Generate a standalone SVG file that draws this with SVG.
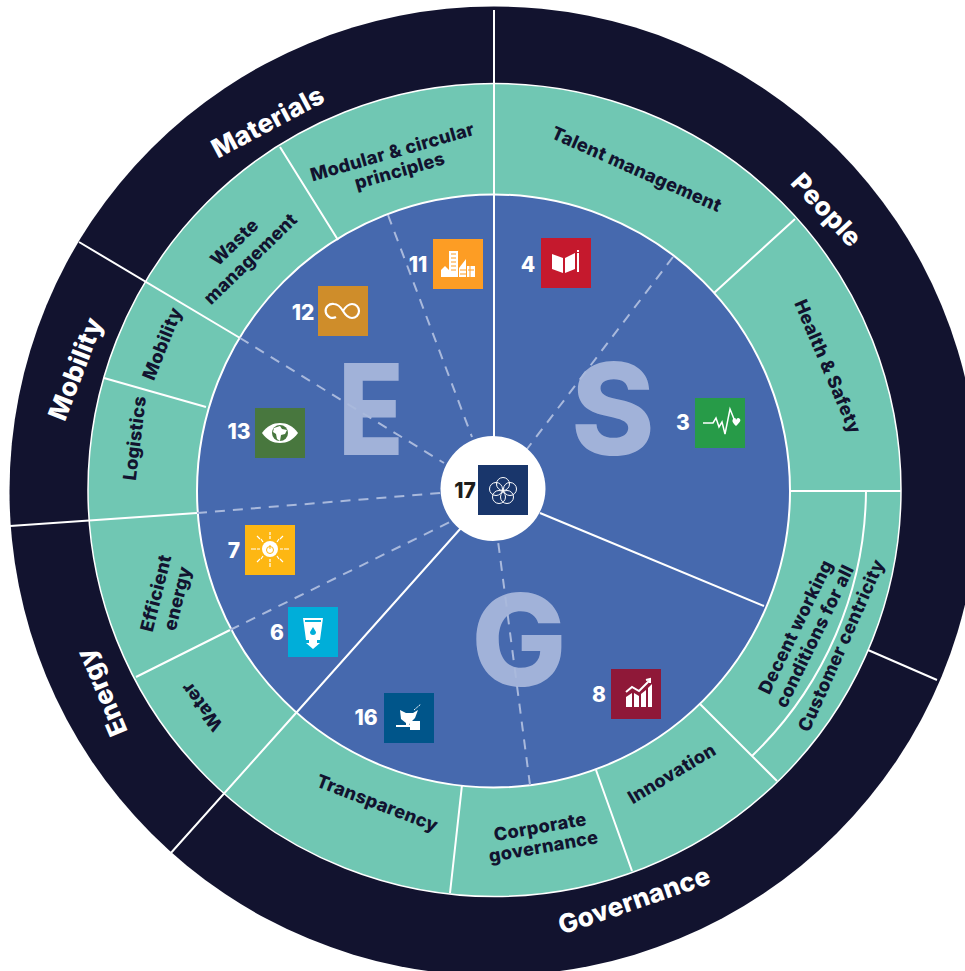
<svg xmlns="http://www.w3.org/2000/svg" width="965" height="971" viewBox="0 0 965 971">
<style>
text{font-family:"Inter","Liberation Sans",sans-serif;font-weight:800;text-anchor:middle}
.o{fill:#fff;font-size:26px;letter-spacing:.2px}
.t{fill:#12132f;font-size:18.2px;letter-spacing:.3px}
.n{fill:#fff;font-size:21px}
.b{fill:#a1b2d9;font-size:127px}
.w{stroke:#fff;stroke-width:2;fill:none}
.d{stroke:#a9b9dc;stroke-width:2;stroke-dasharray:10 8;fill:none}
.i{fill:#fff}
.l{stroke:#fff;fill:none}
</style>
<rect width="965" height="971" fill="#fff"/>
<g id="rings">
<circle cx="494" cy="491" r="484.500" fill="#12132f"/>
<circle cx="494.500" cy="490" r="406.500" fill="#70c7b3" stroke="#fff" stroke-width="1.500"/>
<circle cx="493.500" cy="491" r="296.500" fill="#4669ae" stroke="#fff" stroke-width="2"/>
</g>
<g id="letters">
<text class="b" transform="translate(371 455) scale(.85 1)">E</text>
<text class="b" x="613" y="455">S</text>
<text class="b" x="519" y="686">G</text>
</g>
<g id="connectors">
<path class="w" d="M494 10V195M79 242L240 338M10 526L197 513M170 854L296 713M868 650L937 680M280 147L338 240M104 378L206 407M136 677L230 630M462 785L450 893M596 770L632 871M700 704L777 781M789 491H901M795 219L714 293M866 491A372 372 0 0 1 752 756"/>
<path class="w" d="M494 195V440M540 513L764 606M461 528L296 713"/>
<path class="d" d="M388 215L472 437M673 257L527 449M240 338L444 463M197 513L440 493M230 630L450 522M530 785L498 541"/>
</g>
<g id="outer-labels">
<text class="o" transform="translate(272 130) rotate(-28)">Materials</text>
<text class="o" transform="translate(820 216) rotate(47)">People</text>
<text class="o" transform="translate(84 372) rotate(-69)">Mobility</text>
<text class="o" transform="translate(110 689) rotate(-113)">Energy</text>
<text class="o" transform="translate(637 909) rotate(-19)">Governance</text>
</g>
<g id="segment-labels">
<text class="t" transform="translate(634 175) rotate(24)">Talent management</text>
<text class="t" transform="translate(822 369) rotate(67)">Health &amp; Safety</text>
<text class="t" transform="translate(812 635) rotate(-64)"><tspan x="0" y="-12">Decent working</tspan><tspan x="0" y="9">conditions for all</tspan></text>
<text class="t" transform="translate(847 648) rotate(-66)">Customer centricity</text>
<text class="t" transform="translate(675 779) rotate(-31)">Innovation</text>
<text class="t" transform="translate(542 838) rotate(-10)"><tspan x="0" y="-5">Corporate</tspan><tspan x="0" y="15">governance</tspan></text>
<text class="t" transform="translate(375 809) rotate(21)">Transparency</text>
<text class="t" transform="translate(207 703) rotate(-127)">Water</text>
<text class="t" transform="translate(164 595) rotate(-76)"><tspan x="0" y="-2">Efficient</tspan><tspan x="0" y="20">energy</tspan></text>
<text class="t" transform="translate(141 439) rotate(-83)">Logistics</text>
<text class="t" transform="translate(168 346) rotate(-68)">Mobility</text>
<text class="t" transform="translate(243 251) rotate(-44)"><tspan x="0" y="-6">Waste</tspan><tspan x="0" y="17">management</tspan></text>
<text class="t" transform="translate(394 158) rotate(-16)"><tspan x="0" y="0">Modular &amp; circular</tspan><tspan x="2" y="20">principles</tspan></text>
</g>
<circle id="hub" cx="493" cy="488.500" r="52.500" fill="#fff"/>
<g id="sdg11"><text class="n" x="418" y="272">11</text><rect x="433" y="239" width="50" height="50" fill="#fd9d24"/><path class="i" d="M449 251h9v26h-9zM441 277v-7l4-4 4 4v7zM459 277v-9l7-9v18zM467 266h8v11h-8z"/><path d="M451 254h5M451 258h5M451 262h5M451 266h5M451 270h5M460 270h6M460 274h6M468 270h6M470 266v11" stroke="#fd9d24" stroke-width="1"/></g>
<g id="sdg4"><text class="n" x="528" y="272">4</text><rect x="541" y="238" width="50" height="50" fill="#c5192d"/><path class="i" d="M552 254l11 4v15l-11-4zM565 258l10-5v16l-10 4zM577 253h2v19h-2zM577 250h2v2h-2z"/></g>
<g id="sdg12"><text class="n" x="303" y="320">12</text><rect x="318" y="286" width="50" height="50" fill="#cf8d2a"/><path class="l" stroke-width="2.200" d="M343 311c-3-5-5-7-9-7a7 7 0 1 0 2 13M343 311c3-5 6-7 9-7a7 7 0 0 1 0 14c-3 0-6-2-9-7"/></g>
<g id="sdg13"><text class="n" x="239" y="439">13</text><rect x="255" y="408" width="50" height="50" fill="#48773e"/><path class="i" d="M262 433c5-7 11-10 18-10s13 3 18 10c-5 7-11 10-18 10s-13-3-18-10z"/><circle cx="280" cy="433" r="8" fill="#48773e"/><path class="i" d="M274 428l6-2 2 3 5 1-2 4-4 1-1 6-3-2-1-5-3-2z"/></g>
<g id="sdg3"><text class="n" x="683" y="430">3</text><rect x="695" y="398" width="50" height="50" fill="#279b48"/><path class="l" stroke-width="1.500" d="M703 423h10l3-5 3 9 3-5 3 12 5-25 4 10"/><path class="i" d="M733 419c2-2 3-1 3 1 1-2 2-3 4-1 1 2 0 3-4 7-4-4-4-5-3-7z"/></g>
<g id="sdg7"><text class="n" x="234" y="558">7</text><rect x="245" y="525" width="50" height="50" fill="#fdb713"/><circle class="i" cx="270" cy="549" r="8"/><circle fill="none" stroke="#fdb713" stroke-width="1" cx="270" cy="550" r="3.500"/><path stroke="#fdb713" stroke-width="1" d="M270 545v4"/><path class="l" stroke-width="1.200" d="M270 539v-3M270 559v3M280 549h3M260 549h-3M277 542l2-3M263 542l-2-3M277 556l2 3M263 556l-2 3"/><path class="l" stroke-width="1.200" d="M270 535v-3M270 563v4M284 549h5M256 549h-5M280 539l3-3M260 539l-3-3M280 559l3 3M260 559l-3 3"/></g>
<g id="sdg6"><text class="n" x="277" y="640">6</text><rect x="288" y="607" width="50" height="50" fill="#00aed9"/><path class="i" d="M303 618h20l-3 22h-3v3h3l-7 6-7-6h3v-3h-3z"/><path fill="#00aed9" d="M305 620h16v2h-16zM313 627l3 5a3 3 0 1 1-6 0z"/></g>
<g id="sdg16"><text class="n" x="366" y="725">16</text><rect x="384" y="693" width="50" height="50" fill="#00558a"/><path class="i" d="M400 710l6 3 7 0 5-3-3 8-5 5-1 3-3 0 0-3-5-4zM396 725h13v2h-13zM410 721h10v9h-10v-3h-14v-2h14z"/><path class="l" stroke-width="1" stroke-dasharray="2 1" d="M414 710l7-6"/></g>
<g id="sdg8"><text class="n" x="599" y="702">8</text><rect x="611" y="669" width="50" height="50" fill="#8f1838"/><path class="i" d="M626 697l6-4v14h-6zM634 693l5 3v11h-5zM641 694l5-4v17h-5zM648 688l4-4v23h-4z"/><path class="l" stroke-width="2" d="M626 692l6-5 7 4 10-10M646 680l4-1v4"/></g>
<g id="sdg17"><text x="465" y="498" font-size="21" fill="#1d1d1b">17</text><rect x="478" y="465" width="50" height="50" fill="#19366b"/><g class="l" stroke-width="1"><circle cx="503" cy="484" r="6.500"/><circle cx="510" cy="489" r="6.500"/><circle cx="507" cy="497" r="6.500"/><circle cx="499" cy="497" r="6.500"/><circle cx="496" cy="489" r="6.500"/></g></g>
</svg>
